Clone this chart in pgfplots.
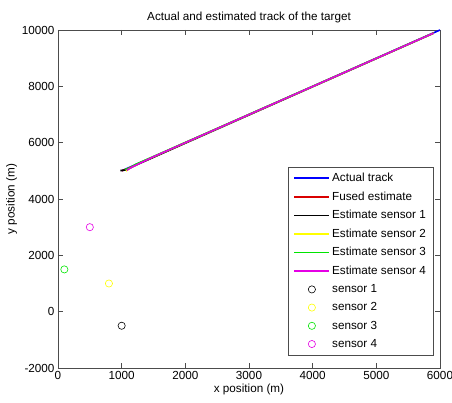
\documentclass[border=0pt]{standalone}
\usepackage{pgfplots}
\pgfplotsset{compat=1.18}
\usepackage{fontspec}
\setmainfont{Liberation Sans}
\definecolor{mblue}{rgb}{0,0,1}
\definecolor{mred}{rgb}{0.85,0,0}
\definecolor{myellow}{rgb}{1,1,0}
\definecolor{mgreen}{rgb}{0,0.9,0}
\definecolor{mmag}{rgb}{0.9,0,0.9}
\definecolor{axgray}{rgb}{0.3,0.3,0.3}
\newcommand{\ff}{\fontsize{11.7bp}{13bp}\selectfont}
\begin{document}
\begin{tikzpicture}
\useasboundingbox (-58bp,-35bp) rectangle (394bp,368bp);
\begin{axis}[
  at={(0,0)}, anchor=south west,
  scale only axis, width=382bp, height=338bp,
  xmin=0, xmax=6000, ymin=-2000, ymax=10000,
  xtick={0,1000,...,6000}, ytick={-2000,0,...,10000},
  scaled ticks=false,
  xticklabel style={/pgf/number format/1000 sep={}},
  yticklabel style={/pgf/number format/1000 sep={}},
  /pgf/number format/assume math mode=true,
  tick align=inside, tick pos=both,
  major tick length=5bp,
  axis line style={axgray},
  every tick/.style={axgray},
  ticklabel style={font=\ff},
  label style={font=\ff},
  title style={font=\ff, yshift=-2bp},
  title={Actual and estimated track of the target},
  xlabel={x position (m)}, ylabel={y position (m)},
  xlabel style={yshift=3bp},
  ylabel style={yshift=-2bp},
  legend cell align=left,
  legend style={at={(0.9817,0.0385)}, anchor=south east,
    draw=axgray, font=\ff,
    row sep=4.6bp, inner xsep=5bp, inner ysep=4bp},
  legend image code/.code={\draw[mark repeat=2,mark phase=2,#1] plot coordinates {(0bp,0bp) (17.5bp,0bp) (35bp,0bp)};},
  every axis plot/.append style={line width=1.6pt},
]
\addplot[mblue, no marks] coordinates {(1000,5000) (6000,10000)};
\addlegendentry{Actual track}
\addplot[mred, no marks] coordinates {(1000,5000) (1100,5080) (1200,5190) (1400,5390) (2000,6000) (5900,9890)};
\addlegendentry{Fused estimate}
\addplot[black, no marks] coordinates {(980,5010) (1060,5030) (1150,5120) (1250,5230) (1500,5480) (5900,9890)};
\addlegendentry{Estimate sensor 1}
\addplot[myellow, no marks] coordinates {(1070,4990) (1120,5090) (1200,5180) (1300,5300) (5900,9890)};
\addlegendentry{Estimate sensor 2}
\addplot[mgreen, no marks] coordinates {(1050,5040) (1130,5100) (1220,5230) (5900,9890)};
\addlegendentry{Estimate sensor 3}
\addplot[mmag, no marks] coordinates {(1080,5020) (1160,5130) (1260,5240) (1500,5500) (5900,9890)};
\addlegendentry{Estimate sensor 4}
\addplot[only marks, mark=o, mark size=3.6bp, black, line width=0.6pt] coordinates {(1000,-500)};
\addlegendentry{sensor 1}
\addplot[only marks, mark=o, mark size=3.6bp, myellow, line width=0.6pt] coordinates {(800,1000)};
\addlegendentry{sensor 2}
\addplot[only marks, mark=o, mark size=3.6bp, mgreen, line width=0.6pt] coordinates {(100,1500)};
\addlegendentry{sensor 3}
\addplot[only marks, mark=o, mark size=3.6bp, mmag, line width=0.6pt] coordinates {(500,3000)};
\addlegendentry{sensor 4}
\end{axis}
\end{tikzpicture}
\end{document}
